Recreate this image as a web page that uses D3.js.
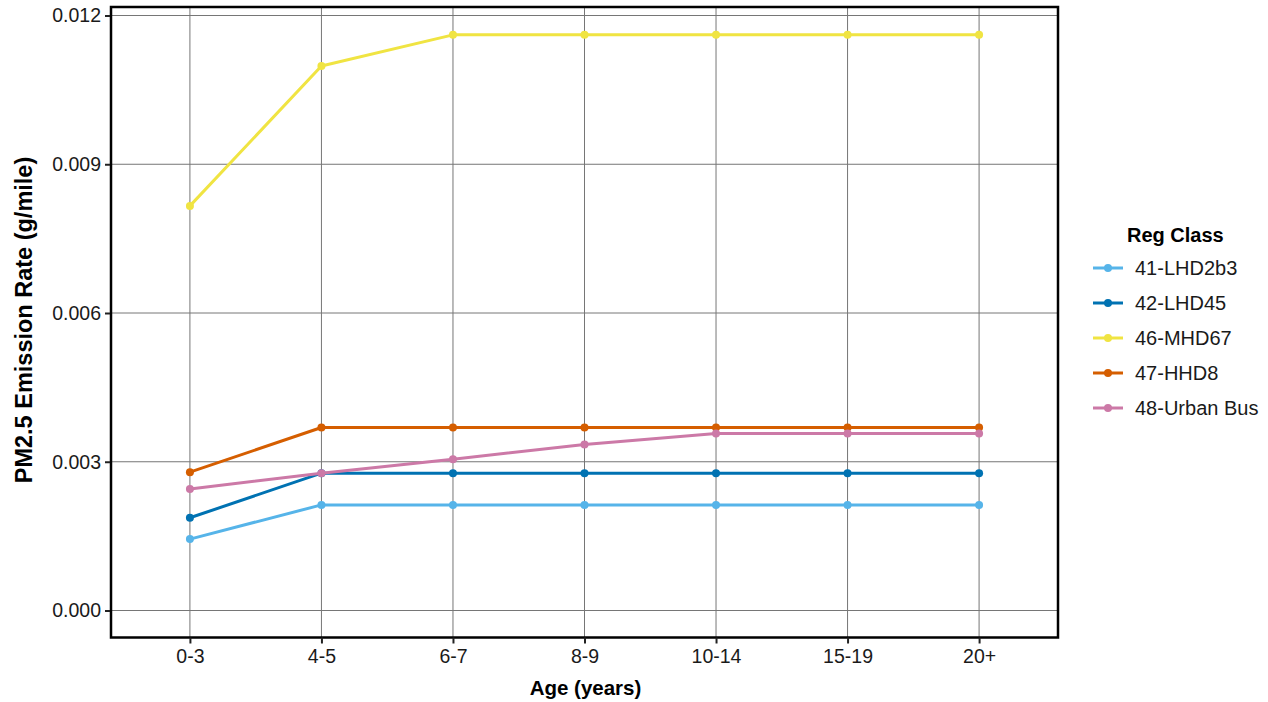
<!DOCTYPE html>
<html>
<head>
<meta charset="utf-8">
<script src="https://cdn.jsdelivr.net/npm/d3@7"></script>
<style>
  html, body { margin: 0; padding: 0; background: #fff; }
  svg { display: block; font-family: "Liberation Sans", Arial, sans-serif; }
</style>
</head>
<body>
<svg id="chart" width="1268" height="702"></svg>
<script>
const ageGroups = ["0-3", "4-5", "6-7", "8-9", "10-14", "15-19", "20+"];
const seriesNames = ["41-LHD2b3", "42-LHD45", "46-MHD67", "47-HHD8", "48-Urban Bus"];
const seriesColors = ["#56B4E9", "#0072B2", "#F0E442", "#D55E00", "#CC79A7"];
const lhd2b3 = [0.00144, 0.00213, 0.00213, 0.00213, 0.00213, 0.00213, 0.00213];
const lhd45 = [0.00187, 0.00277, 0.00277, 0.00277, 0.00277, 0.00277, 0.00277];
const mhd67 = [0.00816, 0.01098, 0.01161, 0.01161, 0.01161, 0.01161, 0.01161];
const hhd8 = [0.00279, 0.00369, 0.00369, 0.00369, 0.00369, 0.00369, 0.00369];
const urbanBus = [0.00245, 0.00277, 0.00305, 0.00335, 0.00357, 0.00357, 0.00357];
const yTicks = [0.000, 0.003, 0.006, 0.009, 0.012];
const xTitle = "Age (years)";
const yTitle = "PM2.5 Emission Rate (g/mile)";
const legendTitle = "Reg Class";

const seriesValues = [lhd2b3, lhd45, mhd67, hhd8, urbanBus];
const series = seriesNames.map((name, i) => ({
  name, color: seriesColors[i],
  values: ageGroups.map((a, j) => ({ age: a, v: seriesValues[i][j] }))
}));

const svg = d3.select("#chart");
const panel = { left: 111, right: 1058, top: 7, bottom: 637.5 };

const x = d3.scalePoint().domain(ageGroups)
  .range([panel.left, panel.right]).padding(0.6);
const y = d3.scaleLinear().domain([0, 0.012]).range([610.5, 15.5]);

// grid
const g = svg.append("g");
g.selectAll("line.vgrid").data(ageGroups).join("line")
  .attr("x1", d => x(d)).attr("x2", d => x(d))
  .attr("y1", panel.top).attr("y2", panel.bottom)
  .attr("stroke", "#767676").attr("stroke-width", 1);
g.selectAll("line.hgrid").data(yTicks).join("line")
  .attr("x1", panel.left).attr("x2", panel.right)
  .attr("y1", d => y(d)).attr("y2", d => y(d))
  .attr("stroke", "#767676").attr("stroke-width", 1);

// lines
const line = d3.line().x(d => x(d.age)).y(d => y(d.v));
const sg = svg.append("g").selectAll("g").data(series).join("g");
sg.append("path").attr("d", d => line(d.values))
  .attr("fill", "none").attr("stroke", d => d.color)
  .attr("stroke-width", 3).attr("stroke-linejoin", "round");
sg.selectAll("circle").data(d => d.values.map(p => ({ ...p, color: d.color }))).join("circle")
  .attr("cx", d => x(d.age)).attr("cy", d => y(d.v)).attr("r", 4)
  .attr("fill", d => d.color);

// panel border
svg.append("rect")
  .attr("x", panel.left).attr("y", panel.top)
  .attr("width", panel.right - panel.left).attr("height", panel.bottom - panel.top)
  .attr("fill", "none").attr("stroke", "#000").attr("stroke-width", 2.5);

// axes
const yAxis = d3.axisLeft(y).tickValues(yTicks).tickFormat(d3.format(".3f")).tickSize(5).tickPadding(4);
const ya = svg.append("g").attr("transform", `translate(${panel.left - 1},0)`).call(yAxis);
ya.select(".domain").remove();
ya.selectAll("line").attr("stroke", "#222").attr("stroke-width", 2);
ya.selectAll("text").attr("font-size", 19.5).attr("fill", "#1a1a1a")
  .attr("font-family", "Liberation Sans, Arial, sans-serif");

const xAxis = d3.axisBottom(x).tickSize(6).tickPadding(6);
const xa = svg.append("g").attr("transform", `translate(0,${panel.bottom})`).call(xAxis);
xa.select(".domain").remove();
xa.selectAll("line").attr("stroke", "#222").attr("stroke-width", 2);
xa.selectAll("text").attr("font-size", 19.5).attr("fill", "#1a1a1a")
  .attr("font-family", "Liberation Sans, Arial, sans-serif");

// titles
svg.append("text").attr("x", (panel.left + panel.right) / 2 + 1).attr("y", 695)
  .attr("text-anchor", "middle").attr("font-size", 20.5).attr("font-weight", "bold")
  .attr("fill", "#000").text(xTitle);
svg.append("text")
  .attr("transform", `translate(32,320) rotate(-90)`)
  .attr("text-anchor", "middle").attr("font-size", 23.5).attr("font-weight", "bold")
  .attr("fill", "#000").text(yTitle);

// legend
const lg = svg.append("g");
lg.append("text").attr("x", 1127).attr("y", 242)
  .attr("font-size", 20).attr("font-weight", "bold").attr("fill", "#000").text(legendTitle);
const items = lg.selectAll("g.item").data(series).join("g")
  .attr("transform", (d, i) => `translate(0,${268 + i * 35})`);
items.append("line").attr("x1", 1093).attr("x2", 1123).attr("y1", 0).attr("y2", 0)
  .attr("stroke", d => d.color).attr("stroke-width", 3);
items.append("circle").attr("cx", 1108).attr("cy", 0).attr("r", 4).attr("fill", d => d.color);
items.append("text").attr("x", 1135).attr("y", 0).attr("dy", "0.36em")
  .attr("font-size", 20).attr("fill", "#1a1a1a").text(d => d.name);
</script>
</body>
</html>
